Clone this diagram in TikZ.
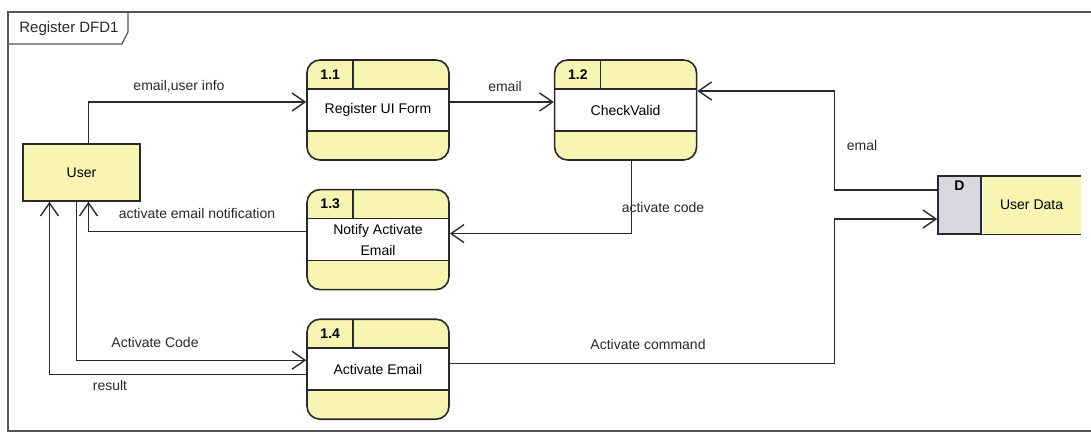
\documentclass[tikz,border=0pt]{standalone}
\usepackage{fontspec}
\setmainfont{Liberation Sans}
\usepackage{tikz}
\usetikzlibrary{positioning, arrows.meta}
\definecolor{jaune}{RGB}{248,244,178}
\definecolor{gris}{RGB}{216,216,224}
\definecolor{trait}{RGB}{38,42,42}
\tikzstyle{process}=[rectangle, rounded corners=13pt, draw=trait, line width=1.6pt, fill=jaune,
  minimum width=142pt, minimum height=100pt, inner sep=0pt, align=center,
  font=\fontsize{14}{21}\selectfont,
  path picture={
    \fill[white, sharp corners] ([yshift=-29pt]path picture bounding box.north west) rectangle ([yshift=29pt]path picture bounding box.south east);
    \draw[trait, line width=1.6pt] ([yshift=-29pt]path picture bounding box.north west) -- ([yshift=-29pt]path picture bounding box.north east);
    \draw[trait, line width=1.6pt] ([yshift=29pt]path picture bounding box.south west) -- ([yshift=29pt]path picture bounding box.south east);
    \draw[trait, line width=1.6pt] ([xshift=46pt]path picture bounding box.north west) -- ([xshift=46pt, yshift=-29pt]path picture bounding box.north west);
  }]
\tikzstyle{numero}=[inner sep=0pt, font=\fontsize{14}{16}\selectfont\bfseries]
\tikzstyle{entite}=[rectangle, draw=trait, line width=1.6pt, fill=jaune, minimum width=117pt, minimum height=57pt]
\tikzstyle{depot}=[rectangle, line width=1.6pt, minimum height=57pt, inner sep=0pt]
\tikzstyle{flux}=[->, draw=trait, line width=1.4pt]
\tikzstyle{etiquette}=[inner sep=1pt, text=trait]
\tikzstyle{cadre}=[draw=trait!80, line width=1.2pt]

\begin{document}
\begin{tikzpicture}[x=1pt, y=-1pt, font=\fontsize{14}{16.5}\selectfont,
    >={Straight Barb[length=13pt, width=18pt]}]
  \useasboundingbox (0,0) rectangle (1091,433);

  % Cadre
  \draw[cadre] (1091,12) -- (8,12) -- (8,431) -- (1091,431);
  \draw[cadre] (8,44) -- (122,44) -- (128,32) -- (128,12);
  \node[etiquette, font=\fontsize{15}{17}\selectfont] (titre) at (69,29) {Register DFD1};

  % Noeuds
  \node[entite] (user) at (81.5,172.5) {User};
  \node[process] (p11) at (378,110) {Register UI Form};
  \node[process, right=104pt of p11] (p12) {CheckValid};
  \node[process, below=28pt of p11] (p13) {Notify Activate\\Email};
  \node[process, below=28pt of p13] (p14) {Activate Email};
  \foreach \p/\n in {p11/1.1, p12/1.2, p13/1.3, p14/1.4}
    \node[numero] (n\p) at ([xshift=24pt, yshift=-15pt]\p.north west) {\n};

  % Depot
  \node[depot, draw=trait, fill=gris, minimum width=43pt] (sd) at (959.5,205) {};
  \node[depot, fill=jaune, minimum width=98pt, right=0pt of sd] (store) {User Data};
  \node[numero, below=5pt of sd.north] (sdid) {D};
  \draw[trait, line width=1.6pt] (sd.north west) -- (store.north east);
  \draw[trait, line width=1.6pt] (sd.south west) -- (store.south east);

  % Flux
  \draw[flux] ([xshift=7pt]user.north) |- ([yshift=8pt]p11.west);
  \draw[flux] ([yshift=8pt]p11.east) -- ([yshift=8pt]p12.west);
  \draw[flux] ([yshift=15pt]sd.west) -- ++(-103,0) |- ([yshift=19pt]p12.east);
  \draw[flux] ([xshift=6pt]p12.south) |- ([yshift=6pt]p13.east);
  \draw[flux] ([yshift=8pt]p13.west) -| ([xshift=7pt]user.south);
  \draw[flux] ([xshift=-5pt]user.south) |- ([yshift=9pt]p14.west);
  \draw[flux] ([yshift=-5pt]p14.west) -| ([xshift=-32pt]user.south);
  \draw[flux] ([yshift=6pt]p14.east) -| ([xshift=-103pt, yshift=-14pt]sd.west) -- ([yshift=-14pt]sd.west);

  % Etiquettes
  \node[etiquette] (lregister) at (179,86) {email,user info};
  \node[etiquette] (lemail) at (505,86) {email};
  \node[etiquette] (lemal) at (862,145) {emal};
  \node[etiquette] (lcode) at (663,207) {activate code};
  \node[etiquette] (lnotif) at (197,213) {activate email notification};
  \node[etiquette] (lactcode) at (155,342) {Activate Code};
  \node[etiquette] (lresult) at (110,385) {result};
  \node[etiquette] (lcommand) at (648,344) {Activate command};
\end{tikzpicture}
\end{document}
